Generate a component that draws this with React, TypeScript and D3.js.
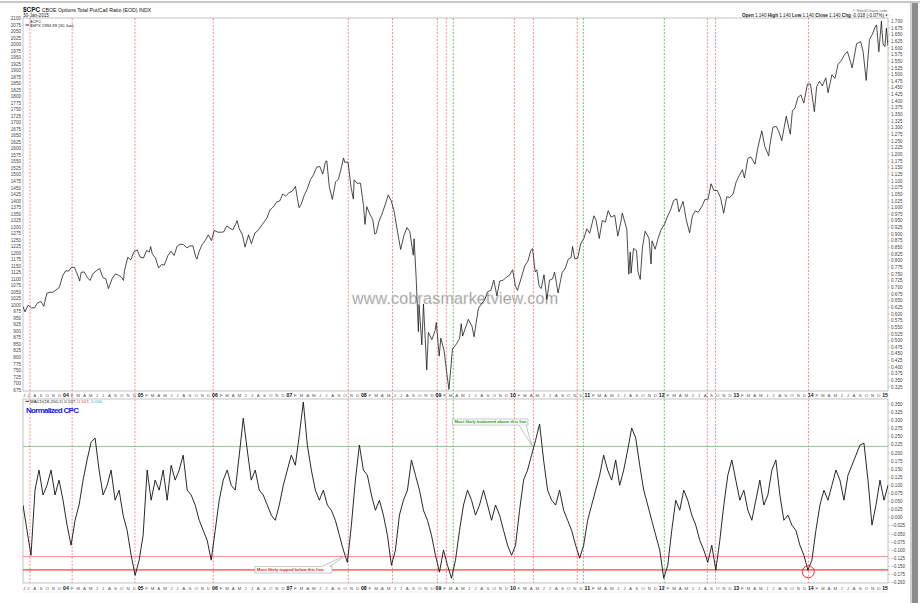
import React, { useEffect, useRef } from 'react';
import * as d3 from 'd3';

const W = 920, H = 603;

// ---------- top panel: $SPX overlay ----------
const spxDates = [
'2003-06-20','2003-06-30','2003-07-15','2003-07-31','2003-08-15','2003-08-29','2003-09-15','2003-09-30','2003-10-15','2003-10-31','2003-11-14','2003-11-28','2003-12-15','2003-12-31',
'2004-01-15','2004-01-30','2004-02-13','2004-02-27','2004-03-12','2004-03-24','2004-03-31','2004-04-15','2004-04-30','2004-05-14','2004-05-28','2004-06-15','2004-06-30','2004-07-15','2004-07-30','2004-08-12','2004-08-31','2004-09-15','2004-09-30','2004-10-15','2004-10-25','2004-10-29','2004-11-15','2004-11-30','2004-12-15','2004-12-31',
'2005-01-14','2005-01-31','2005-02-15','2005-02-28','2005-03-07','2005-03-15','2005-03-31','2005-04-15','2005-04-29','2005-05-13','2005-05-31','2005-06-15','2005-06-30','2005-07-15','2005-07-29','2005-08-15','2005-08-31','2005-09-15','2005-09-30','2005-10-14','2005-10-20','2005-10-31','2005-11-15','2005-11-30','2005-12-15','2005-12-30',
'2006-01-13','2006-01-31','2006-02-15','2006-02-28','2006-03-15','2006-03-31','2006-04-14','2006-04-28','2006-05-05','2006-05-15','2006-05-31','2006-06-13','2006-06-30','2006-07-14','2006-07-31','2006-08-15','2006-08-31','2006-09-15','2006-09-29','2006-10-13','2006-10-31','2006-11-15','2006-11-30','2006-12-15','2006-12-29',
'2007-01-12','2007-01-31','2007-02-15','2007-02-27','2007-03-05','2007-03-15','2007-03-30','2007-04-13','2007-04-30','2007-05-15','2007-05-31','2007-06-15','2007-06-29','2007-07-13','2007-07-19','2007-07-31','2007-08-15','2007-08-31','2007-09-14','2007-09-28','2007-10-09','2007-10-15','2007-10-31','2007-11-15','2007-11-26','2007-11-30','2007-12-14','2007-12-31',
'2008-01-15','2008-01-22','2008-01-31','2008-02-15','2008-02-29','2008-03-10','2008-03-17','2008-03-31','2008-04-15','2008-04-30','2008-05-15','2008-05-30','2008-06-13','2008-06-30','2008-07-15','2008-07-31','2008-08-15','2008-08-29','2008-09-15','2008-09-19','2008-09-29','2008-10-10','2008-10-13','2008-10-27','2008-11-04','2008-11-20','2008-11-28','2008-12-15','2008-12-31',
'2009-01-06','2009-01-20','2009-01-28','2009-02-13','2009-02-27','2009-03-09','2009-03-26','2009-04-15','2009-04-30','2009-05-08','2009-05-15','2009-06-12','2009-06-30','2009-07-10','2009-07-31','2009-08-14','2009-08-31','2009-09-15','2009-09-30','2009-10-15','2009-10-30','2009-11-13','2009-11-30','2009-12-15','2009-12-31',
'2010-01-15','2010-01-29','2010-02-08','2010-02-26','2010-03-15','2010-03-31','2010-04-15','2010-04-23','2010-05-06','2010-05-14','2010-05-25','2010-06-04','2010-06-18','2010-07-02','2010-07-15','2010-07-30','2010-08-09','2010-08-26','2010-09-15','2010-09-30','2010-10-15','2010-10-29','2010-11-05','2010-11-16','2010-11-30','2010-12-15','2010-12-31',
'2011-01-14','2011-01-28','2011-02-18','2011-02-28','2011-03-16','2011-03-31','2011-04-15','2011-04-29','2011-05-13','2011-05-31','2011-06-15','2011-06-30','2011-07-07','2011-07-29','2011-08-08','2011-08-15','2011-08-19','2011-08-31','2011-09-15','2011-09-22','2011-10-03','2011-10-14','2011-10-27','2011-11-15','2011-11-25','2011-11-30','2011-12-15','2011-12-30',
'2012-01-13','2012-01-31','2012-02-15','2012-02-29','2012-03-15','2012-03-30','2012-04-10','2012-04-30','2012-05-15','2012-06-01','2012-06-15','2012-06-29','2012-07-13','2012-07-31','2012-08-15','2012-08-31','2012-09-14','2012-09-28','2012-10-15','2012-10-31','2012-11-15','2012-11-30','2012-12-14','2012-12-31',
'2013-01-15','2013-01-31','2013-02-15','2013-02-25','2013-03-14','2013-03-28','2013-04-18','2013-04-30','2013-05-21','2013-06-05','2013-06-24','2013-06-28','2013-07-15','2013-07-31','2013-08-15','2013-08-27','2013-09-18','2013-09-30','2013-10-08','2013-10-18','2013-10-31','2013-11-15','2013-11-29','2013-12-13','2013-12-31',
'2014-01-15','2014-02-03','2014-02-14','2014-02-28','2014-03-14','2014-03-31','2014-04-11','2014-04-30','2014-05-15','2014-05-30','2014-06-13','2014-06-30','2014-07-15','2014-07-31','2014-08-07','2014-08-29','2014-09-18','2014-09-30','2014-10-15','2014-10-31','2014-11-14','2014-11-28','2014-12-05','2014-12-16','2014-12-29','2014-12-31',
'2015-01-06','2015-01-15','2015-01-22','2015-01-30'];
const spxValues = [
995,975,1000,990,990,1008,1015,996,1046,1050,1050,1058,1068,1112,
1132,1131,1146,1145,1120,1093,1126,1128,1107,1095,1121,1133,1141,1107,1101,1064,1104,1120,1115,1108,1095,1130,1184,1174,1205,1212,
1185,1181,1210,1204,1225,1197,1181,1143,1156,1154,1191,1207,1191,1227,1234,1233,1220,1227,1228,1186,1177,1207,1233,1249,1270,1248,
1287,1280,1280,1281,1304,1295,1289,1311,1325,1294,1270,1223,1270,1236,1277,1286,1304,1320,1336,1366,1378,1396,1400,1427,1418,
1430,1438,1456,1399,1374,1387,1421,1444,1482,1501,1530,1532,1503,1552,1553,1455,1406,1473,1484,1527,1565,1548,1549,1451,1407,1481,1468,1468,
1380,1310,1378,1349,1330,1273,1276,1322,1351,1385,1423,1400,1360,1280,1214,1267,1298,1282,1192,1255,1106,899,1003,848,1005,752,896,868,903,
934,805,874,826,735,677,832,852,873,929,882,946,919,879,987,1004,1021,1052,1057,1096,1036,1093,1096,1108,1115,
1136,1074,1057,1104,1150,1169,1211,1217,1128,1136,1074,1064,1117,1022,1096,1101,1127,1047,1125,1141,1176,1183,1225,1178,1180,1235,1257,
1293,1276,1343,1327,1256,1325,1319,1363,1338,1345,1265,1320,1353,1292,1119,1204,1123,1218,1209,1129,1099,1224,1284,1257,1158,1247,1215,1258,
1289,1312,1343,1366,1402,1408,1358,1398,1330,1278,1343,1362,1356,1379,1405,1407,1466,1441,1440,1412,1353,1416,1413,1426,
1472,1498,1520,1488,1563,1569,1541,1598,1669,1609,1573,1606,1683,1686,1661,1631,1725,1682,1656,1745,1757,1798,1806,1775,1848,
1848,1742,1838,1859,1841,1872,1815,1884,1870,1924,1936,1960,1973,1931,1910,2003,2011,1972,1862,2018,2039,2067,2075,1972,2090,2059,
2002,1992,2063,1995];

// ---------- bottom panel: Normalized CPC (MACD 18,200,1), evenly spaced samples across the chart period ----------
const cpcValues = [
0.039,-0.039,-0.116,0.085,0.147,0.070,0.100,0.147,0.070,0.116,
0.054,-0.023,-0.085,-0.008,0.039,0.116,0.178,0.233,0.246,0.147,
0.070,0.100,0.147,0.054,0.085,0.008,-0.039,-0.116,-0.178,-0.131,
-0.054,0.147,0.054,0.116,0.085,0.147,0.054,0.162,0.116,0.147,
0.193,0.085,0.070,0.039,-0.008,-0.039,-0.070,-0.131,-0.039,0.054,
0.116,0.147,0.100,0.085,0.193,0.307,0.209,0.116,0.147,0.085,
0.070,0.039,0.008,-0.008,0.039,0.100,0.147,0.193,0.162,0.255,
0.357,0.224,0.147,0.085,0.054,0.085,0.039,0.023,-0.008,-0.054,
-0.100,-0.138,-0.023,0.116,0.224,0.147,0.131,0.070,0.023,0.054,
0.008,-0.054,-0.147,-0.100,0.008,0.054,0.085,0.178,0.131,0.085,
0.023,-0.008,-0.054,-0.116,-0.168,-0.100,-0.147,-0.187,-0.131,-0.039,
0.039,0.085,0.054,0.008,0.039,0.085,0.039,-0.008,0.039,0.008,
-0.039,-0.085,-0.116,-0.085,0.023,0.116,0.147,0.193,0.239,0.289,
0.178,0.085,0.054,0.039,0.085,0.023,-0.008,-0.039,-0.085,-0.125,
-0.085,-0.008,0.039,0.085,0.131,0.193,0.147,0.116,0.178,0.100,
0.147,0.209,0.277,0.246,0.162,0.085,0.039,-0.008,-0.054,-0.100,
-0.187,-0.147,-0.039,0.054,0.023,0.085,0.054,0.008,-0.023,-0.070,
-0.100,-0.138,-0.085,-0.162,-0.070,0.039,0.131,0.178,0.116,0.054,
0.085,0.023,-0.008,0.054,0.116,0.039,0.070,0.147,0.178,0.070,
-0.008,0.008,-0.023,-0.039,-0.085,-0.116,-0.162,-0.131,-0.039,0.039,
0.085,0.054,0.100,0.147,0.116,0.054,0.131,0.162,0.193,0.224,
0.230,0.116,-0.023,0.039,0.116,0.054,0.100];

const startDate = '2003-06-20';
const endDate = '2015-01-30';

const spxTicks = d3.range(675, 2101, 25);
const rightTopTicks = d3.range(0.325, 1.7001, 0.025);
const rightBotTicks = d3.range(-0.2, 0.3501, 0.025);

const redMarkers = ['2003-07-24','2004-02-16','2004-12-20','2006-01-08','2007-11-01','2008-06-05','2009-01-11','2009-02-24','2010-01-24','2010-04-27','2010-11-28','2012-08-27','2012-10-06','2014-01-05'];
const greenMarkers = ['2009-03-30','2010-12-28','2012-01-29'];

const greenLevel = 0.22;
const redLevelUpper = -0.12;
const redLevelLower = -0.161;

const monthLetters = ['J','F','M','A','M','J','J','A','S','O','N','D'];

const FONT = 'Liberation Sans, Arial, sans-serif';

export default function App() {
  const ref = useRef<SVGSVGElement>(null);
  useEffect(() => {
    document.body.style.margin = '0';
    const svg = d3.select(ref.current);
    svg.selectAll('*').remove();
    const parse = d3.timeParse('%Y-%m-%d');
    const t0 = parse(startDate)!, t1 = parse(endDate)!;

    const L = 23, R = 888;
    const topY0 = 18, topY1 = 391, row1 = 399, botY1 = 583, row2 = 592;

    const x = d3.scaleTime().domain([t0, t1]).range([L, R]);
    const ySpx = d3.scaleLinear().domain([675, 2100]).range([390, 18.4]);
    const yRight = d3.scaleLinear().domain([0.325, 1.7]).range([387.1, 21.4]);
    const yBot = d3.scaleLinear().domain([-0.2, 0.35]).range([582.5, 404.3]);

    // outer frame
    svg.append('rect').attr('x', 0).attr('y', 0).attr('width', W).attr('height', H).attr('fill', '#fff');
    svg.append('rect').attr('x', 0).attr('y', 1).attr('width', W).attr('height', 2).attr('fill', '#c8c8c8');
    svg.append('rect').attr('x', 912).attr('y', 3).attr('width', 6).attr('height', H - 3).attr('fill', '#8c8c8c');
    svg.append('rect').attr('x', 910).attr('y', 3).attr('width', 2).attr('height', H - 3).attr('fill', '#d0d0d0');

    // panel borders
    const g = svg.append('g');
    const border = '#9a9a9a';
    g.append('rect').attr('x', L).attr('y', topY0).attr('width', R - L).attr('height', topY1 - topY0).attr('fill', 'none').attr('stroke', border).attr('stroke-width', 0.6);
    g.append('rect').attr('x', L).attr('y', row1).attr('width', R - L).attr('height', botY1 - row1).attr('fill', 'none').attr('stroke', border).attr('stroke-width', 0.6);
    g.append('line').attr('x1', L).attr('x2', R).attr('y1', row2).attr('y2', row2).attr('stroke', '#ddd').attr('stroke-width', 0.5);

    // clip paths
    const defs = svg.append('defs');
    defs.append('clipPath').attr('id', 'clipTop').append('rect').attr('x', L).attr('y', topY0).attr('width', R - L).attr('height', topY1 - topY0);
    defs.append('clipPath').attr('id', 'clipBot').append('rect').attr('x', L).attr('y', row1).attr('width', R - L).attr('height', botY1 - row1);

    // vertical marker lines
    const vm = g.append('g');
    redMarkers.forEach(d => {
      const xx = x(parse(d)!);
      vm.append('line').attr('x1', xx).attr('x2', xx).attr('y1', topY0).attr('y2', botY1)
        .attr('stroke', '#ff5a5a').attr('stroke-width', 0.7).attr('stroke-dasharray', '2,1.5');
    });
    greenMarkers.forEach(d => {
      const xx = x(parse(d)!);
      vm.append('line').attr('x1', xx).attr('x2', xx).attr('y1', topY0).attr('y2', botY1)
        .attr('stroke', '#33aa33').attr('stroke-width', 0.7).attr('stroke-dasharray', '2,1.5');
    });

    // watermark
    g.append('text').attr('x', 455).attr('y', 304).attr('text-anchor', 'middle')
      .attr('font-family', FONT).attr('font-size', 16).attr('fill', '#9a9a9a')
      .attr('stroke', '#d8d8d8').attr('stroke-width', 0.4)
      .attr('textLength', 206).text('www.cobrasmarketview.com');

    // SPX line
    const spxData = spxDates.map((d, i) => ({ t: parse(d)!, v: spxValues[i] }));
    g.append('path').datum(spxData).attr('clip-path', 'url(#clipTop)')
      .attr('d', d3.line<any>().x(d => x(d.t)).y(d => ySpx(d.v)))
      .attr('fill', 'none').attr('stroke', '#111').attr('stroke-width', 0.75);

    // left axis (SPX)
    const la = g.append('g').attr('font-family', FONT).attr('font-size', 4.6).attr('fill', '#444');
    spxTicks.forEach(v => {
      la.append('text').attr('x', 21).attr('y', ySpx(v) + 1.6).attr('text-anchor', 'end').text(String(v));
    });
    // right axis (top)
    const ra = g.append('g').attr('font-family', FONT).attr('font-size', 4.6).attr('fill', '#444');
    rightTopTicks.forEach(v => {
      ra.append('text').attr('x', 891).attr('y', yRight(v) + 1.6).text(d3.format('.3f')(v));
      ra.append('line').attr('x1', R).attr('x2', R + 2).attr('y1', yRight(v)).attr('y2', yRight(v)).attr('stroke', '#999').attr('stroke-width', 0.4);
    });
    rightBotTicks.forEach(v => {
      ra.append('text').attr('x', 891).attr('y', yBot(v) + 1.6).text(d3.format('.3f')(v));
      ra.append('line').attr('x1', R).attr('x2', R + 2).attr('y1', yBot(v)).attr('y2', yBot(v)).attr('stroke', '#999').attr('stroke-width', 0.4);
    });

    // date axis rows
    const months = d3.timeMonth.range(d3.timeMonth.floor(t0), t1);
    const drawDates = (yy: number) => {
      const da = g.append('g').attr('font-family', FONT);
      months.forEach(m => {
        const s = m < t0 ? t0 : m;
        const nm = d3.timeMonth.offset(m, 1);
        const e = nm > t1 ? t1 : nm;
        const cx = (x(s) + x(e)) / 2;
        const isYear = m.getMonth() === 0;
        da.append('text').attr('x', cx).attr('y', yy).attr('text-anchor', 'middle')
          .attr('font-size', isYear ? 5.2 : 4.4).attr('font-weight', isYear ? 'bold' : 'normal')
          .attr('fill', isYear ? '#111' : '#555')
          .text(isYear ? d3.timeFormat('%y')(m) : monthLetters[m.getMonth()]);
      });
    };
    drawDates(396.8);
    drawDates(589.5);

    // horizontal levels
    const hl = g.append('g');
    hl.append('line').attr('x1', L).attr('x2', R).attr('y1', yBot(greenLevel)).attr('y2', yBot(greenLevel)).attr('stroke', '#7fc77f').attr('stroke-width', 0.9);
    hl.append('line').attr('x1', L).attr('x2', R).attr('y1', yBot(redLevelUpper)).attr('y2', yBot(redLevelUpper)).attr('stroke', '#ff8080').attr('stroke-width', 0.9);
    hl.append('line').attr('x1', L).attr('x2', R).attr('y1', yBot(redLevelLower)).attr('y2', yBot(redLevelLower)).attr('stroke', '#ff4040').attr('stroke-width', 1.4);

    // CPC line
    const n = cpcValues.length;
    const tScale = d3.scaleLinear().domain([0, n - 1]).range([+t0, +t1]);
    const cpcData = cpcValues.map((v, i) => ({ t: new Date(tScale(i)), v }));
    g.append('path').datum(cpcData).attr('clip-path', 'url(#clipBot)')
      .attr('d', d3.line<any>().x(d => x(d.t)).y(d => yBot(d.v)))
      .attr('fill', 'none').attr('stroke', '#111').attr('stroke-width', 0.9);

    // callouts
    const callout = (tip: [number, number], bx: number, by: number, bw: number, bh: number, baseA: number, baseB: number, fromTop: boolean, text: string, color: string) => {
      const cg = g.append('g');
      const yb = fromTop ? by : by + bh;
      cg.append('path').attr('d', `M${baseA},${yb}L${tip[0]},${tip[1]}L${baseB},${yb}`).attr('fill', '#fff').attr('stroke', '#888').attr('stroke-width', 0.5);
      cg.append('rect').attr('x', bx).attr('y', by).attr('width', bw).attr('height', bh).attr('fill', '#fff').attr('stroke', '#999').attr('stroke-width', 0.5);
      cg.append('line').attr('x1', baseA + 0.4).attr('x2', baseB - 0.4).attr('y1', yb).attr('y2', yb).attr('stroke', '#fff').attr('stroke-width', 0.8);
      cg.append('text').attr('x', bx + 2).attr('y', by + bh - 1.6).attr('font-family', FONT).attr('font-size', 4.2)
        .attr('font-weight', 'bold').attr('fill', color).text(text);
    };
    const gTip: [number, number] = [x(parse('2010-04-20')!), yBot(0.222)];
    callout(gTip, 452.5, 419, 75.5, 6, 519, 526, false, 'Most likely bottomed above this line.', '#1a9a1a');
    const rTip: [number, number] = [x(parse('2007-11-01')!) - 1, yBot(-0.113)];
    callout(rTip, 255, 566.5, 77, 6.5, 322, 330, true, 'Most likely topped below this line.', '#ee1111');

    // red circle
    g.append('circle').attr('cx', x(parse('2014-01-04')!)).attr('cy', yBot(-0.167)).attr('r', 6)
      .attr('fill', 'none').attr('stroke', '#ff2222').attr('stroke-width', 1);

    // header
    const hd = g.append('g').attr('font-family', FONT);
    const t1el = hd.append('text').attr('x', 23).attr('y', 12).attr('font-size', 5.2).attr('fill', '#111');
    t1el.append('tspan').attr('font-weight', 'bold').attr('font-size', 6.4).text('$CPC ');
    t1el.append('tspan').text('CBOE Options Total Put/Call Ratio (EOD) INDX');
    hd.append('text').attr('x', 23).attr('y', 17).attr('font-size', 4.6).attr('fill', '#222').text('30-Jan-2015');
    hd.append('text').attr('x', 30).attr('y', 22.6).attr('font-size', 4.2).attr('fill', '#222').text('$CPC');
    hd.append('line').attr('x1', 25.5).attr('x2', 29).attr('y1', 25).attr('y2', 25).attr('stroke', '#111').attr('stroke-width', 0.9);
    hd.append('text').attr('x', 30).attr('y', 26.6).attr('font-size', 4.2).attr('fill', '#222').text('$SPX 1994.99 (30 Jan)');
    hd.append('text').attr('x', 887).attr('y', 12).attr('text-anchor', 'end').attr('font-size', 4).attr('fill', '#666').text('© StockCharts.com');
    const oh = hd.append('text').attr('x', 884).attr('y', 17.2).attr('text-anchor', 'end').attr('font-size', 4.6).attr('fill', '#222');
    const parts: [string, boolean][] = [['Open ', true], ['1.140 ', false], ['High ', true], ['1.140 ', false], ['Low ', true], ['1.140 ', false], ['Close ', true], ['1.140 ', false], ['Chg ', true], ['-0.018 (-0.07%)', false]];
    parts.forEach(([s, b]) => oh.append('tspan').attr('font-weight', b ? 'bold' : 'normal').text(s));
    hd.append('path').attr('d', 'M885,14.6L888,14.6L886.5,16.6Z').attr('fill', '#e22');

    // bottom legend
    const bl = g.append('g').attr('font-family', FONT);
    bl.append('line').attr('x1', 25.5).attr('x2', 29).attr('y1', 401.3).attr('y2', 401.3).attr('stroke', '#111').attr('stroke-width', 0.9);
    const lt = bl.append('text').attr('x', 30).attr('y', 403).attr('font-size', 4.4).attr('fill', '#222');
    lt.append('tspan').text('MACD(18,200,1) 0.107, ');
    lt.append('tspan').attr('fill', '#ee3333').text('0.107');
    lt.append('tspan').text(', ');
    lt.append('tspan').attr('fill', '#3aa0e0').text('0.000');
    bl.append('text').attr('x', 26).attr('y', 412.5).attr('font-size', 8).attr('font-weight', 'bold')
      .attr('fill', '#1515e8').attr('textLength', 53).text('Normalized CPC');
  }, []);
  return <svg ref={ref} width={W} height={H} style={{ display: 'block', position: 'absolute', left: 0, top: 0 }} />;
}
